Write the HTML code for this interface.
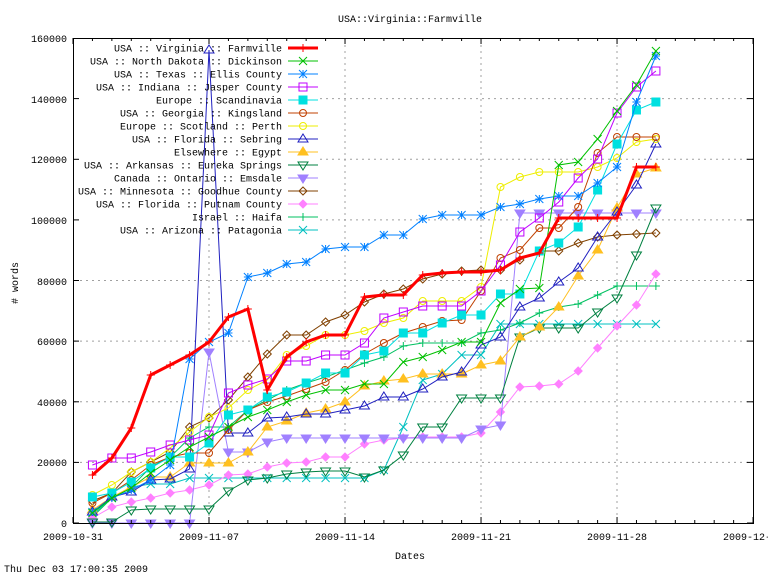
<!DOCTYPE html>
<html><head><meta charset="utf-8"><style>
body{margin:0;background:#fff;}
svg{display:block;font-family:"Liberation Mono","DejaVu Sans Mono",monospace;font-size:10px;}
</style></head><body>
<svg id="c" width="768" height="576" viewBox="0 0 768 576" xmlns="http://www.w3.org/2000/svg">
<rect width="768" height="576" fill="#fff"/>
<g id="grid" stroke="#a0a0a0" stroke-width="1" stroke-dasharray="2,4"></g>
<g id="series"></g>
<g id="legend"></g>
<rect x="73.5" y="38.5" width="680" height="485" fill="none" stroke="#000"/>
<g id="ticks" stroke="#000"></g>
<g font-size="10" fill="#000" text-anchor="end">
<text x="67" y="527">0</text>
<text x="67" y="466">20000</text>
<text x="67" y="406">40000</text>
<text x="67" y="345">60000</text>
<text x="67" y="285">80000</text>
<text x="67" y="224">100000</text>
<text x="67" y="163">120000</text>
<text x="67" y="103">140000</text>
<text x="67" y="42">160000</text>
</g>
<g font-size="10" fill="#000" text-anchor="middle">
<text x="73" y="540">2009-10-31</text>
<text x="209" y="540">2009-11-07</text>
<text x="345" y="540">2009-11-14</text>
<text x="481" y="540">2009-11-21</text>
<text x="617" y="540">2009-11-28</text>
<text x="753" y="540">2009-12-05</text>
<text x="410" y="22">USA::Virginia::Farmville</text>
<text x="410" y="559">Dates</text>
<text x="18" y="283" transform="rotate(-90 18 283)"># words</text>
</g>
<text x="4" y="572" font-size="10">Thu Dec 03 17:00:35 2009</text>
</svg>
<script>
var NS="http://www.w3.org/2000/svg";
function el(p,t,a){var e=document.createElementNS(NS,t);for(var k in a)e.setAttribute(k,a[k]);p.appendChild(e);return e;}
var g=document.getElementById('grid'),tk=document.getElementById('ticks');
var ys=[523,462.4,401.8,341.1,280.5,219.9,159.3,98.6];
ys.forEach(function(y,i){if(i>0)el(g,'line',{x1:(y<238?320:74),x2:753,y1:y,y2:y});el(tk,'line',{x1:73,x2:79,y1:y,y2:y});el(tk,'line',{x1:747,x2:753,y1:y,y2:y});});
[209,345,481,617].forEach(function(x){el(g,'line',{x1:x,x2:x,y1:(x<320?238:39),y2:523});});
for(var d=0;d<=35;d++){var x=73+d*19.43,L=(d%7==0)?6:3;el(tk,'line',{x1:x,x2:x,y1:523,y2:523-L});el(tk,'line',{x1:x,x2:x,y1:38,y2:38+L});}
var S=[
["USA :: Virginia :: Farmville","#ff0000","plus",[475,458,428,375,365,355,342,317,309,390,357,342,335,335,297,295,295,275,273,272,272,270,258,253,218,218,218,218,167,167]],
["USA :: North Dakota :: Dickinson","#00c000","x",[513,498,488,473,460,447,437,427,417,410,402,395,390,390,384,384,362,357,350,342,342,303,289,288,165,162,139,111,85,51]],
["USA :: Texas :: Ellis County","#0080ff","star",[512,498,490,480,465,359,342,333,277,273,264,262,249,247,247,235,235,219,215,215,215,207,204,199,196,196,183,167,102,56]],
["USA :: Indiana :: Jasper County","#c000ff","sq",[465,458,458,452,445,440,435,393,385,379,361,361,355,355,343,318,312,306,306,306,291,265,232,218,202,178,159,113,87,71]],
["Europe :: Scandinavia","#00e0e0","fsq",[497,493,482,468,457,457,443,415,410,397,392,383,373,373,355,351,333,333,323,315,315,294,294,251,243,227,190,144,110,102]],
["USA :: Georgia :: Kingsland","#c04000","circ",[503,493,480,465,457,453,453,430,410,402,396,389,382,370,354,343,333,327,321,320,291,258,250,228,228,207,153,137,137,137]],
["Europe :: Scotland :: Perth","#eeee00","circ",[495,485,472,462,448,432,417,408,390,380,355,346,335,335,331,323,318,301,301,301,287,187,177,172,172,172,167,158,142,139]],
["USA :: Florida :: Sebring","#2020c0","tri",[512,497,492,480,479,469,50,433,433,418,417,414,414,410,406,397,397,389,377,372,345,337,307,298,282,268,237,212,185,144]],
["Elsewhere :: Egypt","#ffc020","ftri",[510,497,487,477,477,463,463,463,452,427,421,413,409,402,386,381,379,374,374,374,365,361,337,327,307,276,250,208,174,168]],
["USA :: Arkansas :: Eureka Springs","#008040","dtri",[522,522,510,509,509,509,509,491,480,478,474,472,471,471,477,470,455,427,427,398,398,398,337,328,328,328,312,298,255,208]],
["Canada :: Ontario :: Emsdale","#a080ff","fdtri",[523,523,523,523,523,523,352,452,452,442,438,438,438,438,438,438,438,438,438,438,429,425,213,213,213,213,213,213,213,213]],
["USA :: Minnesota :: Goodhue County","#804000","dia",[501,493,472,462,452,427,418,400,377,354,335,335,322,315,302,294,289,279,274,271,270,270,260,251,251,243,237,235,234,233]],
["USA :: Florida :: Putnam County","#ff80ff","fdia",[518,507,502,498,493,490,485,475,474,467,463,462,457,457,444,440,438,437,437,437,433,412,387,386,384,371,348,326,305,274]],
["Israel :: Haifa","#00c060","plus",[517,498,487,467,457,438,427,427,410,400,390,383,377,370,363,357,346,343,343,343,333,330,323,313,307,304,295,286,286,286]],
["USA :: Arizona :: Patagonia","#00c0c0","x",[515,498,487,484,484,478,478,478,478,478,478,478,478,478,478,470,427,380,374,355,355,324,324,324,324,324,324,324,324,324]]
];
function mk(p,t,x,y,c){var r=4;
 switch(t){
 case"plus":el(p,'path',{d:"M"+(x-r)+" "+y+"h"+2*r+"M"+x+" "+(y-r)+"v"+2*r,stroke:c,fill:"none"});break;
 case"x":el(p,'path',{d:"M"+(x-r)+" "+(y-r)+"l"+2*r+" "+2*r+"M"+(x-r)+" "+(y+r)+"l"+2*r+" "+(-2*r),stroke:c,fill:"none"});break;
 case"star":el(p,'path',{d:"M"+(x-r)+" "+y+"h"+2*r+"M"+x+" "+(y-r)+"v"+2*r+"M"+(x-r)+" "+(y-r)+"l"+2*r+" "+2*r+"M"+(x-r)+" "+(y+r)+"l"+2*r+" "+(-2*r),stroke:c,fill:"none"});break;
 case"sq":el(p,'rect',{x:x-r,y:y-r,width:2*r,height:2*r,stroke:c,fill:"none"});break;
 case"fsq":el(p,'rect',{x:x-r,y:y-r,width:2*r,height:2*r,stroke:c,fill:c});break;
 case"circ":el(p,'circle',{cx:x,cy:y,r:3.5,stroke:c,fill:"none"});break;
 case"tri":el(p,'path',{d:"M"+x+" "+(y-r-1)+"L"+(x+r+1)+" "+(y+r-1)+"L"+(x-r-1)+" "+(y+r-1)+"Z",stroke:c,fill:"none"});break;
 case"ftri":el(p,'path',{d:"M"+x+" "+(y-r-1)+"L"+(x+r+1)+" "+(y+r-1)+"L"+(x-r-1)+" "+(y+r-1)+"Z",stroke:c,fill:c});break;
 case"dtri":el(p,'path',{d:"M"+x+" "+(y+r+1)+"L"+(x+r+1)+" "+(y-r+1)+"L"+(x-r-1)+" "+(y-r+1)+"Z",stroke:c,fill:"none"});break;
 case"fdtri":el(p,'path',{d:"M"+x+" "+(y+r+1)+"L"+(x+r+1)+" "+(y-r+1)+"L"+(x-r-1)+" "+(y-r+1)+"Z",stroke:c,fill:c});break;
 case"dia":el(p,'path',{d:"M"+x+" "+(y-r)+"L"+(x+r)+" "+y+"L"+x+" "+(y+r)+"L"+(x-r)+" "+y+"Z",stroke:c,fill:"none"});break;
 case"fdia":el(p,'path',{d:"M"+x+" "+(y-r)+"L"+(x+r)+" "+y+"L"+x+" "+(y+r)+"L"+(x-r)+" "+y+"Z",stroke:c,fill:c});break;
 }}
var sg=document.getElementById('series'),lg=document.getElementById('legend');
for(var i=S.length-1;i>=0;i--){var s=S[i],pts=s[3].map(function(y,j){return (73+(j+1)*19.43).toFixed(1)+","+y;});
 el(sg,'polyline',{points:pts.join(" "),fill:"none",stroke:s[1],"stroke-width":i==0?3:1});
 s[3].forEach(function(y,j){mk(sg,s[2],73+(j+1)*19.43,y,s[1]);});}
S.forEach(function(s,i){var y=48+13*i;
 var t=el(lg,'text',{x:282,y:y+3.5,"text-anchor":"end","font-size":"10",fill:"#000"});t.textContent=s[0];
 el(lg,'line',{x1:288,x2:318,y1:y,y2:y,stroke:s[1],"stroke-width":i==0?3:1});mk(lg,s[2],303,y,s[1]);});
</script>
</body></html>
